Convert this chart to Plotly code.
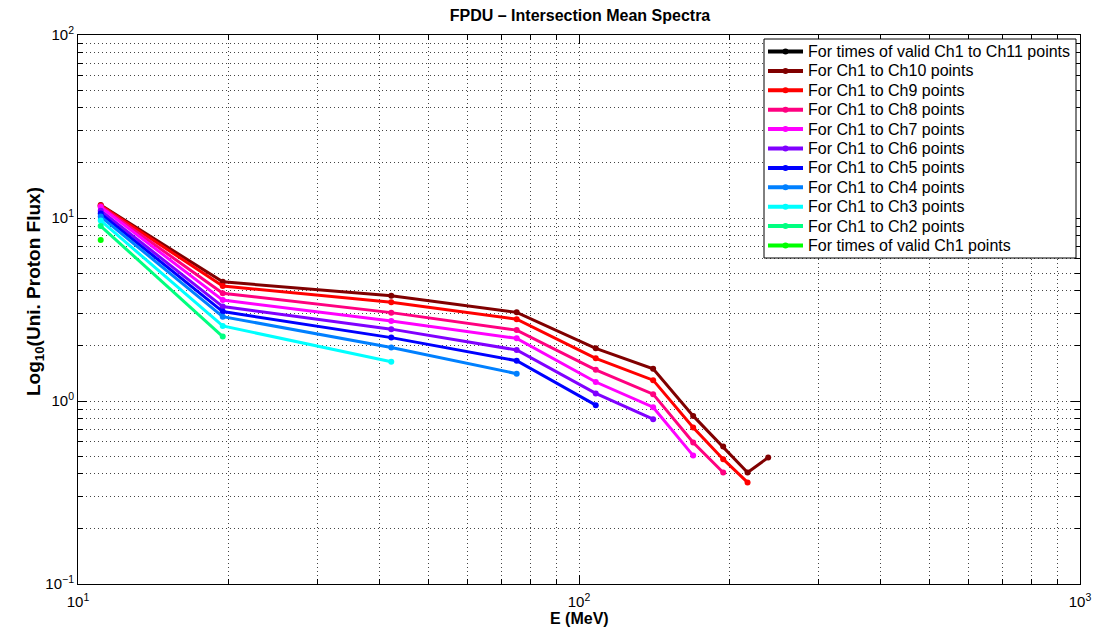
import plotly.graph_objects as go

# Energy bin centres (MeV)
energy = [11.1, 19.45, 42.2, 75.1, 108.0, 140.6, 169.0, 194.0, 217.0, 238.6]

# Mean proton flux per channel set
flux_ch11 = []
flux_ch10 = [11.76, 4.48, 3.76, 3.05, 1.94, 1.50, 0.829, 0.564, 0.407, 0.491]
flux_ch9 = [11.7, 4.25, 3.46, 2.80, 1.71, 1.30, 0.716, 0.481, 0.359]
flux_ch8 = [11.6, 3.88, 3.04, 2.44, 1.48, 1.09, 0.593, 0.407]
flux_ch7 = [11.47, 3.56, 2.74, 2.20, 1.27, 0.925, 0.503]
flux_ch6 = [10.97, 3.28, 2.47, 1.90, 1.10, 0.796]
flux_ch5 = [10.57, 3.08, 2.22, 1.66, 0.949]
flux_ch4 = [10.18, 2.89, 1.96, 1.41]
flux_ch3 = [9.68, 2.57, 1.64]
flux_ch2 = [9.03, 2.25]
flux_ch1 = [7.58]

series_names = [
    "For times of valid Ch1 to Ch11 points",
    "For Ch1 to Ch10 points",
    "For Ch1 to Ch9 points",
    "For Ch1 to Ch8 points",
    "For Ch1 to Ch7 points",
    "For Ch1 to Ch6 points",
    "For Ch1 to Ch5 points",
    "For Ch1 to Ch4 points",
    "For Ch1 to Ch3 points",
    "For Ch1 to Ch2 points",
    "For times of valid Ch1 points",
]
series_values = [flux_ch11, flux_ch10, flux_ch9, flux_ch8, flux_ch7, flux_ch6,
                 flux_ch5, flux_ch4, flux_ch3, flux_ch2, flux_ch1]
series_colors = ["#000000", "#800000", "#FF0000", "#FF0080", "#FF00FF", "#8000FF",
                 "#0000FF", "#0080FF", "#00FFFF", "#00FF80", "#00FF00"]

x_ticks = [10, 100, 1000]
x_ticktext = ["10<sup>1</sup>", "10<sup>2</sup>", "10<sup>3</sup>"]
y_ticks = [0.1, 1, 10, 100]
y_ticktext = ["10<sup>\u22121</sup>", "10<sup>0</sup>", "10<sup>1</sup>", "10<sup>2</sup>"]

FONT = "Liberation Sans, Arial, Helvetica, sans-serif"

W, H = 1117, 630
ML, MR, MT, MB = 78, 37, 35, 46
PW, PH = W - ML - MR, H - MT - MB


def fx(px):
    """Pixel column -> paper x."""
    return (px - ML) / PW


def fy(py):
    """Pixel row -> paper y."""
    return (H - MB - py) / PH


fig = go.Figure()
for name, vals, color in zip(series_names, series_values, series_colors):
    fig.add_trace(go.Scatter(
        x=energy[:len(vals)], y=vals, name=name, mode="lines+markers",
        line=dict(color=color, width=3),
        marker=dict(color=color, size=6),
        showlegend=False,
    ))


def minor_vals(lo_exp, hi_exp):
    out = []
    for e in range(lo_exp, hi_exp):
        for m in range(2, 10):
            out.append(m * 10 ** e)
    return out


grid_dash = "1px,3px"
grid_color = "#444444"

axis_common = dict(
    type="log", automargin=False,
    showline=True, linecolor="black", linewidth=1, mirror="allticks",
    ticks="inside", ticklen=9, tickcolor="black", tickwidth=1,
    showgrid=True, gridcolor=grid_color, griddash=grid_dash, gridwidth=1,
    zeroline=False,
    tickfont=dict(family=FONT, size=15, color="black"),
)

fig.update_xaxes(
    **axis_common,
    range=[1, 3],
    tickmode="array", tickvals=x_ticks, ticktext=x_ticktext,
    ticklabelstandoff=4,
    minor=dict(tickmode="array", tickvals=minor_vals(1, 3), ticks="inside",
               ticklen=5, tickcolor="black", showgrid=True,
               gridcolor=grid_color, griddash=grid_dash, gridwidth=1),
)
fig.update_yaxes(
    **axis_common,
    range=[-1, 2],
    tickmode="array", tickvals=y_ticks, ticktext=y_ticktext,
    minor=dict(tickmode="array", tickvals=minor_vals(-1, 2), ticks="inside",
               ticklen=5, tickcolor="black", showgrid=True,
               gridcolor=grid_color, griddash=grid_dash, gridwidth=1),
)

shapes = []
annotations = []

# Axis titles
annotations.append(dict(text="<b>E (MeV)</b>", xref="paper", yref="paper",
                        x=fx(579), y=fy(618), xanchor="center", yanchor="middle",
                        showarrow=False, font=dict(family=FONT, size=16, color="black")))
annotations.append(dict(text="<b>Log<sub>10</sub>(Uni. Proton Flux)</b>",
                        xref="paper", yref="paper", textangle=-90,
                        x=fx(35), y=fy(292), xanchor="center", yanchor="middle",
                        showarrow=False, font=dict(family=FONT, size=19, color="black")))

# Legend panel in the upper-right corner of the axes
box_l, box_r, box_t, box_b = 764, 1076, 39, 258
shapes.append(dict(type="rect", xref="paper", yref="paper",
                   x0=fx(box_l), x1=fx(box_r), y0=fy(box_b), y1=fy(box_t),
                   line=dict(color="black", width=1), fillcolor="white", layer="above"))
row0, row_step = 51.5, 19.4
for i, (name, color) in enumerate(zip(series_names, series_colors)):
    yc = row0 + i * row_step
    shapes.append(dict(type="line", xref="paper", yref="paper",
                       x0=fx(768), x1=fx(803), y0=fy(yc), y1=fy(yc),
                       line=dict(color=color, width=4), layer="above"))
    shapes.append(dict(type="circle", xref="paper", yref="paper",
                       xsizemode="pixel", ysizemode="pixel",
                       xanchor=fx(785.5), yanchor=fy(yc),
                       x0=-3, x1=3, y0=-3, y1=3,
                       line=dict(color=color, width=0), fillcolor=color, layer="above"))
    annotations.append(dict(text=name, xref="paper", yref="paper",
                            x=fx(806), y=fy(yc), xanchor="left", yanchor="middle",
                            showarrow=False,
                            font=dict(family=FONT, size=16, color="black")))

fig.update_layout(
    width=W, height=H,
    margin=dict(l=ML, r=MR, t=MT, b=MB),
    paper_bgcolor="white", plot_bgcolor="white",
    title=dict(text="<b>FPDU \u2013 Intersection Mean Spectra</b>",
               x=fx(580) * PW / W + ML / W, xanchor="center",
               y=1 - 15 / H, yanchor="middle",
               font=dict(family=FONT, size=16, color="black")),
    shapes=shapes,
    annotations=annotations,
    showlegend=False,
)

fig.write_html("out.html")
